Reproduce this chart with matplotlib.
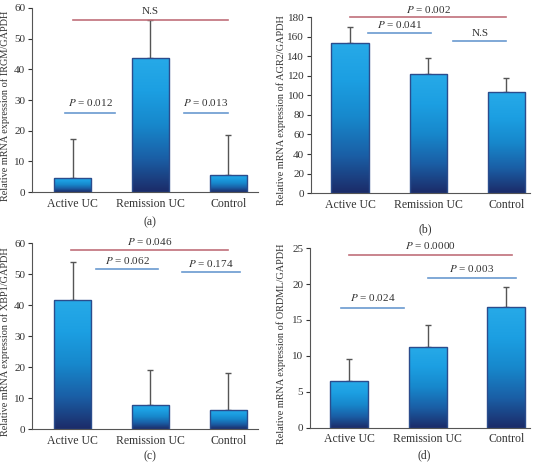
import matplotlib.pyplot as plt
import numpy as np
from matplotlib.colors import LinearSegmentedColormap
from matplotlib.patches import Rectangle

plt.rcParams["font.family"] = "Liberation Serif"
plt.rcParams["mathtext.fontset"] = "stix"

groups = ["Active UC", "Remission UC", "Control"]

irgm_mean = [4.7, 43.7, 5.6]
irgm_err = [12.6, 12.3, 12.9]
agr2_mean = [153.5, 121.5, 103.0]
agr2_err = [16.5, 17.0, 14.5]
xbp1_mean = [41.7, 7.9, 6.3]
xbp1_err = [12.1, 11.1, 11.7]
ordml_mean = [6.5, 11.3, 16.8]
ordml_err = [3.1, 3.0, 2.8]

BAR_CMAP = LinearSegmentedColormap.from_list(
    "bar", ["#1c2b68", "#1a5fa6", "#1788cc", "#1c9fe2", "#27aae8"]
)
RED = "#c0707a"
BLUE = "#6a9ad0"
TXT = "#333333"


def gradient_bars(ax, means, errs, width=0.48):
    grad = np.linspace(0, 1, 256).reshape(-1, 1)
    for i, (m, e) in enumerate(zip(means, errs)):
        ax.errorbar(i, m, yerr=[[0], [e]], fmt="none", ecolor="#555555",
                    elinewidth=1.0, capsize=2.5, capthick=1.0, zorder=1)
        rect = Rectangle((i - width / 2, 0), width, m, facecolor="none",
                         edgecolor="#2b4c8c", linewidth=1.0, zorder=3)
        ax.add_patch(rect)
        im = ax.imshow(grad, cmap=BAR_CMAP, origin="lower", aspect="auto",
                       extent=(i - width / 2, i + width / 2, 0, m), zorder=2)
        im.set_clip_path(rect)


def bracket(ax, x0, x1, y, label, color, dy):
    ax.plot([x0, x1], [y, y], color=color, linewidth=1.2, clip_on=False)
    ax.text((x0 + x1) / 2, y + dy, label, ha="center", va="bottom",
            fontsize=8, color=TXT, clip_on=False)


def style(ax, ylim, yticks, ylabel, panel, label_x, panel_dy):
    ax.set_xlim(-0.52, 2.38)
    ax.set_ylim(*ylim)
    ax.set_yticks(yticks)
    ax.set_xticks(range(3))
    ax.set_xticklabels(groups, fontsize=8.5, color=TXT)
    ax.tick_params(axis="x", length=0, pad=4)
    ax.tick_params(axis="y", labelsize=8, colors=TXT, length=3, direction="out", pad=2)
    for s in ["top", "right"]:
        ax.spines[s].set_visible(False)
    for s in ["left", "bottom"]:
        ax.spines[s].set_color("#555555")
        ax.spines[s].set_linewidth(0.8)
    ax.set_ylabel(ylabel, fontsize=7.4, color=TXT)
    ax.yaxis.set_label_coords(label_x, 0.47)
    ax.annotate(panel, xy=(0.52, 0), xycoords="axes fraction",
                xytext=(0, -panel_dy), textcoords="offset points",
                ha="center", va="center", fontsize=8.5, color=TXT)


fig = plt.figure(figsize=(5.44, 4.62), dpi=100)

ax_a = fig.add_axes([0.059, 0.584, 0.415, 0.399])
gradient_bars(ax_a, irgm_mean, irgm_err)
style(ax_a, (0, 60), range(0, 61, 10),
      "Relative mRNA expression of IRGM/GAPDH", "(a)", -0.1, 22)
bracket(ax_a, 0.0, 2.0, 56.2, "N.S", RED, 1.0)
bracket(ax_a, -0.1, 0.55, 25.8, "$P$ = 0.012", BLUE, 1.5)
bracket(ax_a, 1.43, 2.0, 25.8, "$P$ = 0.013", BLUE, 1.5)

ax_b = fig.add_axes([0.572, 0.582, 0.402, 0.381])
gradient_bars(ax_b, agr2_mean, agr2_err)
style(ax_b, (0, 180), range(0, 181, 20),
      "Relative mRNA expression of AGR2/GAPDH", "(b)", -0.115, 26)
ax_b.set_xlim(-0.5, 2.3)
bracket(ax_b, 0.0, 2.0, 180, "$P$ = 0.002", RED, 2.5)
bracket(ax_b, 0.23, 1.03, 163.3, "$P$ = 0.041", BLUE, 3.0)
bracket(ax_b, 1.32, 2.0, 155.5, "N.S", BLUE, 3.0)

ax_c = fig.add_axes([0.059, 0.071, 0.415, 0.403])
gradient_bars(ax_c, xbp1_mean, xbp1_err)
style(ax_c, (0, 60), range(0, 61, 10),
      "Relative mRNA expression of XBP1/GAPDH", "(c)", -0.1, 19.5)
bracket(ax_c, -0.02, 2.0, 57.8, "$P$ = 0.046", RED, 1.0)
bracket(ax_c, 0.3, 1.1, 51.7, "$P$ = 0.062", BLUE, 1.0)
bracket(ax_c, 1.4, 2.15, 50.5, "$P$ = 0.174", BLUE, 1.0)

ax_d = fig.add_axes([0.570, 0.074, 0.404, 0.389])
gradient_bars(ax_d, ordml_mean, ordml_err)
style(ax_d, (0, 25), range(0, 26, 5),
      "Relative mRNA expression of ORDML/GAPDH", "(d)", -0.11, 19.5)
ax_d.set_xlim(-0.5, 2.3)
bracket(ax_d, 0.0, 2.07, 24.0, "$P$ = 0.0000", RED, 0.6)
bracket(ax_d, 1.0, 2.12, 20.8, "$P$ = 0.003", BLUE, 0.6)
bracket(ax_d, -0.1, 0.7, 16.7, "$P$ = 0.024", BLUE, 0.6)

fig.savefig("out.png", dpi=100)
